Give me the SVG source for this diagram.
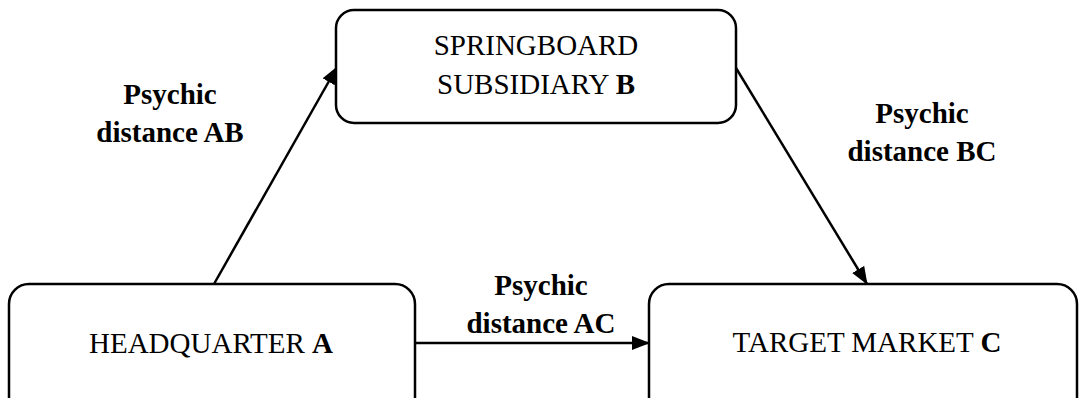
<svg xmlns="http://www.w3.org/2000/svg" width="1079" height="398" viewBox="0 0 1079 398">
  <style>
    .box { fill: #ffffff; stroke: #000000; stroke-width: 2.5; }
    .name { font-family: "Liberation Serif", "Times New Roman", serif; font-size: 29px; fill: #000000; text-anchor: middle; }
    .label { font-family: "Liberation Serif", "Times New Roman", serif; font-size: 29px; font-weight: bold; fill: #000000; text-anchor: middle; }
    .link { stroke: #000000; stroke-width: 2.5; fill: none; marker-end: url(#arrow); }
    .bold { font-weight: bold; }
  </style>
  <defs>
    <marker id="arrow" markerUnits="userSpaceOnUse" markerWidth="18" markerHeight="14" refX="17" refY="7" orient="auto">
      <path d="M0,0 L18,7 L0,14 Z" fill="#000000"/>
    </marker>
  </defs>
  <rect width="1079" height="398" fill="#ffffff"/>

  <g id="connectors">
    <line class="link" x1="214" y1="284" x2="337" y2="67"/>
    <line class="link" x1="736" y1="68" x2="867" y2="284"/>
    <line class="link" x1="416" y1="343" x2="649" y2="343"/>
  </g>

  <g id="node-a">
    <rect class="box" x="9" y="284" width="406" height="140" rx="20" ry="20"/>
    <text class="name" x="211" y="353">HEADQUARTER <tspan class="bold">A</tspan></text>
  </g>

  <g id="node-b">
    <rect class="box" x="336" y="10" width="400" height="113" rx="18" ry="18"/>
    <text class="name" x="536" y="55">SPRINGBOARD</text>
    <text class="name" x="536" y="94">SUBSIDIARY <tspan class="bold">B</tspan></text>
  </g>

  <g id="node-c">
    <rect class="box" x="649" y="284" width="428" height="140" rx="20" ry="20"/>
    <text class="name" x="867" y="352">TARGET MARKET <tspan class="bold">C</tspan></text>
  </g>

  <g id="label-ab">
    <text class="label" x="170" y="104">Psychic</text>
    <text class="label" x="170" y="142">distance AB</text>
  </g>

  <g id="label-bc">
    <text class="label" x="922" y="123">Psychic</text>
    <text class="label" x="922" y="161">distance BC</text>
  </g>

  <g id="label-ac">
    <text class="label" x="541" y="295">Psychic</text>
    <text class="label" x="541" y="333">distance AC</text>
  </g>
</svg>
